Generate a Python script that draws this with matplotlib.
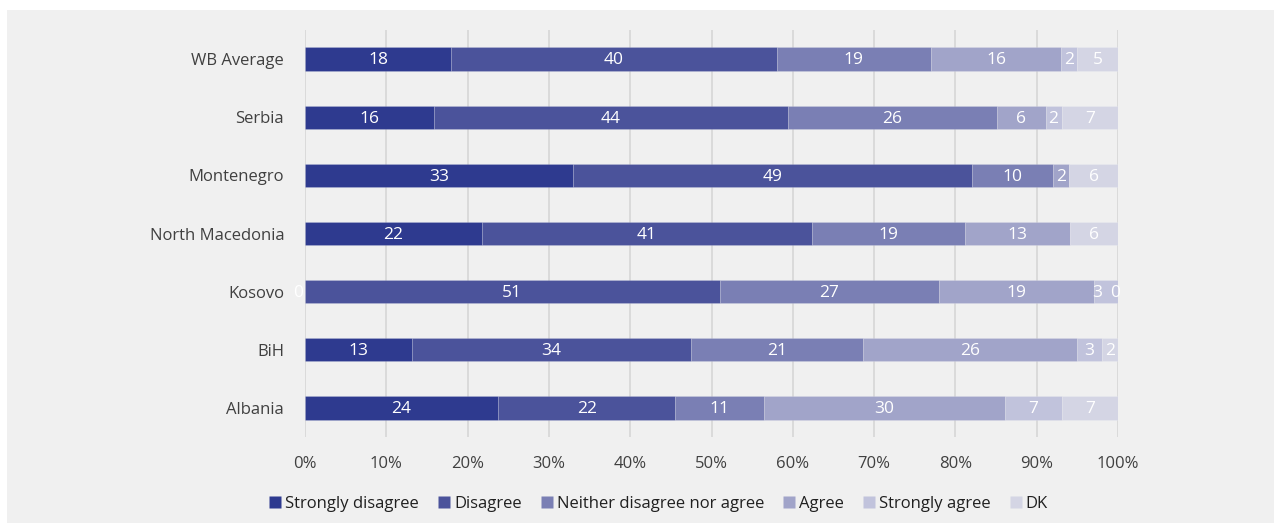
import numpy as np
import matplotlib
matplotlib.use("Agg")
import matplotlib.pyplot as plt
from matplotlib.patches import Rectangle
from matplotlib.lines import Line2D

plt.rcParams['font.family'] = ['Open Sans', 'DejaVu Sans']

categories = ["Albania", "BiH", "Kosovo", "North Macedonia", "Montenegro", "Serbia", "WB Average"]
series_names = ["Strongly disagree", "Disagree", "Neither disagree nor agree", "Agree", "Strongly agree", "DK"]
strongly_disagree = [24, 13, 0, 22, 33, 16, 18]
disagree = [22, 34, 51, 41, 49, 44, 40]
neither = [11, 21, 27, 19, 10, 26, 19]
agree = [30, 26, 19, 13, 2, 6, 16]
strongly_agree = [7, 3, 3, np.nan, np.nan, 2, 2]
dk = [7, 2, 0, 6, 6, 7, 5]
x_ticks = [0, 10, 20, 30, 40, 50, 60, 70, 80, 90, 100]
x_tick_labels = ["0%", "10%", "20%", "30%", "40%", "50%", "60%", "70%", "80%", "90%", "100%"]

colors = ["#2e3a8f", "#4b539b", "#7a7fb4", "#a1a4c9", "#c1c3dc", "#d4d5e4"]
bg = "#f0f0f0"
txt = "#404040"

data = np.array([strongly_disagree, disagree, neither, agree, strongly_agree, dk], dtype=float)
shown = ~np.isnan(data)
vals = np.nan_to_num(data)
totals = vals.sum(axis=0)
pct = vals / totals * 100

fig = plt.figure(figsize=(12.74, 5.23), dpi=100, facecolor="white")
fig.patches.append(Rectangle((7 / 1274, 0), 1 - 7 / 1274, 1 - 10 / 523,
                             transform=fig.transFigure, facecolor=bg,
                             edgecolor="none", zorder=-10))
ax = fig.add_axes([305 / 1274, 1 - 437 / 523, 813 / 1274, 407 / 523])
ax.set_facecolor(bg)
ax.patch.set_alpha(0)

y = np.arange(len(categories))
left = np.zeros(len(categories))
for i, name in enumerate(series_names):
    ax.barh(y, pct[i], left=left, height=0.4, color=colors[i],
            edgecolor=(1, 1, 1, 0.2), linewidth=0.5, label=name, zorder=3)
    for j in range(len(categories)):
        if not shown[i, j]:
            continue
        cx = left[j] + pct[i, j] / 2
        dx = 0
        if vals[i, j] == 0:
            dx = -5 if left[j] < 50 else -2
        elif categories[j] == "Kosovo" and i == 4:
            dx = -6
        ax.annotate(f"{int(vals[i, j])}", (cx, y[j]), xytext=(dx, -1),
                    textcoords="offset points", ha="center", va="center",
                    color="white", fontsize=12.5, zorder=5)
    left = left + pct[i]

ax.set_xlim(0, 100)
ax.set_ylim(-0.5, 6.5)
ax.set_yticks(y)
ax.set_yticklabels(categories, fontsize=12, color=txt)
ax.set_xticks(x_ticks)
ax.set_xticklabels(x_tick_labels, fontsize=12, color=txt)
ax.tick_params(axis="y", length=0, pad=15)
ax.tick_params(axis="x", length=0, pad=14)
ax.grid(axis="x", color="#d6d6d6", linewidth=1.2, zorder=0)
ax.set_axisbelow(True)
for s in ax.spines.values():
    s.set_visible(False)

proxy = [Line2D([0], [0], marker="s", linestyle="none", markersize=9,
                markerfacecolor=c, markeredgecolor="none") for c in colors]
fig.legend(proxy, series_names, loc="center", bbox_to_anchor=(0.516, 0.036),
           ncol=6, frameon=False, fontsize=12, handletextpad=0.1,
           columnspacing=1.0, handlelength=1.0, labelcolor="#202020")

fig.savefig("out.png", dpi=100, facecolor="white")
